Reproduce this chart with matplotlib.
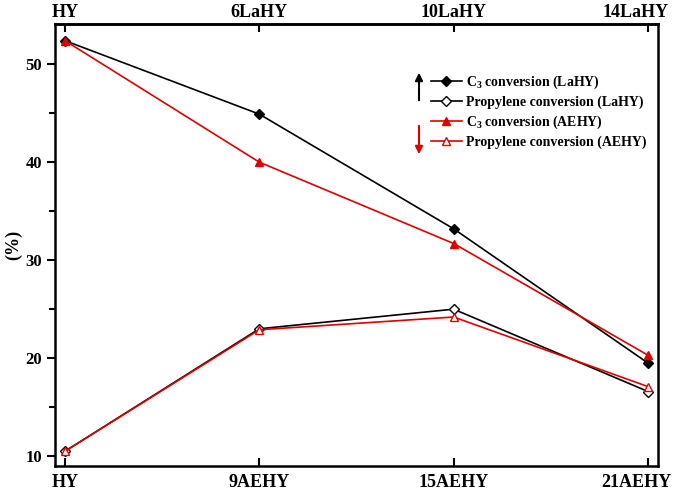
import matplotlib
matplotlib.use('Agg')
import matplotlib.pyplot as plt
import matplotlib.transforms as mtransforms

plt.rcParams['font.family'] = ['Liberation Serif', 'DejaVu Serif']
plt.rcParams['font.weight'] = 'bold'
plt.rcParams['mathtext.fontset'] = 'custom'
plt.rcParams['mathtext.rm'] = 'Liberation Serif:bold'
plt.rcParams['mathtext.default'] = 'rm'

bottom_labels = ['HY', '9AEHY', '15AEHY', '21AEHY']
top_labels = ['HY', '6LaHY', '10LaHY', '14LaHY']

c3_lahy = [52.4, 44.9, 33.2, 19.5]
prop_lahy = [10.5, 23.0, 25.0, 16.6]
c3_aehy = [52.4, 40.0, 31.7, 20.3]
prop_aehy = [10.5, 22.9, 24.2, 17.1]

fig = plt.figure(figsize=(6.75, 4.95), dpi=100)
ax = fig.add_axes([0.0815, 0.0586, 0.8935, 0.893])
x = range(len(bottom_labels))

ax.plot(x, c3_lahy, color='black', lw=1.2, marker='D', ms=5, mfc='black', mec='black',
        label='C$_3$ conversion (LaHY)')
ax.plot(x, prop_lahy, color='black', lw=1.2, marker='D', ms=5, mfc='white', mec='black',
        label='Propylene conversion (LaHY)')
ax.plot(x, c3_aehy, color='#e00000', lw=1.2, marker='^', ms=6, mfc='#e00000', mec='#e00000',
        label='C$_3$ conversion (AEHY)')
ax.plot(x, prop_aehy, color='#e00000', lw=1.2, marker='^', ms=6, mfc='white', mec='#e00000',
        label='Propylene conversion (AEHY)')

ax.set_xlim(-0.051, 3.052)
ax.set_ylim(9.0, 54.1)
ax.set_xticks(list(x))
ax.set_xticklabels(bottom_labels, fontsize=13, fontweight='bold')
ax.set_yticks([10, 20, 30, 40, 50])
ax.set_yticks([15, 25, 35, 45], minor=True)
ax.tick_params(axis='y', direction='out', length=6, width=1.5, labelsize=12)
ax.tick_params(axis='y', which='minor', direction='out', length=4, width=1.5)
ax.tick_params(axis='x', direction='in', length=6, width=1.5, pad=6)
ax.set_ylabel('(%)', fontsize=13, fontweight='bold', labelpad=2)
for s in ax.spines.values():
    s.set_linewidth(1.8)

top = ax.secondary_xaxis('top')
top.set_xticks(list(x))
top.set_xticklabels(top_labels, fontsize=13, fontweight='bold')
top.tick_params(direction='in', length=6, width=1.5, pad=2)
top.spines['top'].set_linewidth(1.8)

# last labels sit a little left of their ticks so they fit in the figure
shift = mtransforms.ScaledTranslation(-12 / 100, 0, fig.dpi_scale_trans)
for lab in (ax.get_xticklabels()[-1], top.get_xticklabels()[-1]):
    lab.set_transform(lab.get_transform() + shift)

leg = ax.legend(loc='upper left', bbox_to_anchor=(0.603, 0.915), frameon=False,
                handlelength=2.2, handletextpad=0.3, labelspacing=0.32,
                prop={'weight': 'bold', 'size': 10})

ax.annotate('', xy=(419 / 675, 1 - 70 / 495), xytext=(419 / 675, 1 - 103 / 495),
            xycoords='figure fraction', textcoords='figure fraction',
            arrowprops=dict(arrowstyle='-|>', color='black', lw=1.5, mutation_scale=11))
ax.annotate('', xy=(419 / 675, 1 - 157 / 495), xytext=(419 / 675, 1 - 123 / 495),
            xycoords='figure fraction', textcoords='figure fraction',
            arrowprops=dict(arrowstyle='-|>', color='#e00000', lw=1.5, mutation_scale=11))

fig.savefig('out.png', dpi=100)
